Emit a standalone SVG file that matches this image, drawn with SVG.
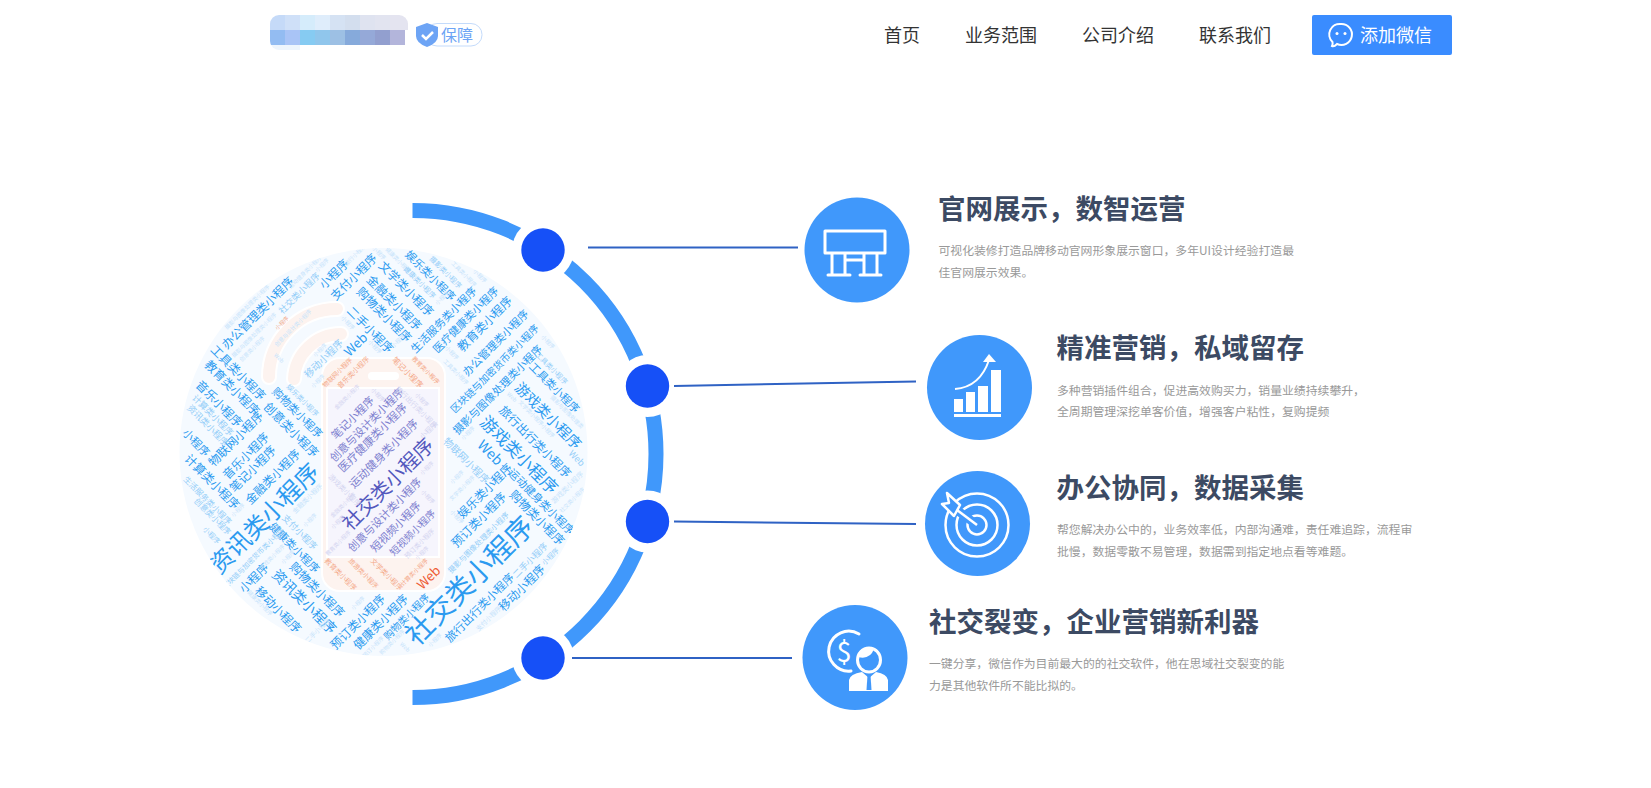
<svg xmlns="http://www.w3.org/2000/svg" width="1651" height="788" viewBox="0 0 1651 788">
<style>
text{font-family:"Noto Sans CJK SC","Noto Sans",sans-serif}
.c text{text-anchor:middle;dominant-baseline:central}
.w{fill:#2b9af0;font-size:12px}
.l{fill:#c6e3fb;font-size:5.500px}
.m{fill:#93cdf8;font-size:9px}
.p{fill:#7d80cf;font-size:11px}
.q{fill:#d3d4f0;font-size:5.500px}
.o{fill:#f4a888;font-size:6.500px}
.nav{fill:#333;font-size:18px}
.t{fill:#3c4a63;font-size:27.500px;font-weight:700}
.d{fill:#999;font-size:11.850px}
.ic{fill:none;stroke:#fff;stroke-width:3;stroke-linecap:round;stroke-linejoin:round}
.node{fill:#4098fb}
.dot{fill:#1650f7}
.halo{fill:#fff}
.cn{stroke:#2f62c4;stroke-width:2;fill:none}
</style>
<defs>
<clipPath id="cloud-clip"><circle cx="383.500" cy="452" r="204"/></clipPath>
<clipPath id="logo-clip"><rect x="270" y="15" width="138" height="35" rx="9"/></clipPath>
</defs>
<g id="logo">
<g id="mosaic" clip-path="url(#logo-clip)">
<rect x="270" y="44" width="30" height="6" fill="#eef5fd"/>
<rect x="270" y="15" width="15" height="15" fill="#c5daf8"/><rect x="285" y="15" width="15" height="15" fill="#cfe0f8"/><rect x="300" y="15" width="15" height="15" fill="#d5ecfb"/><rect x="315" y="15" width="15" height="15" fill="#dfedfb"/><rect x="330" y="15" width="15" height="15" fill="#d5e2f3"/><rect x="345" y="15" width="15" height="15" fill="#d3deee"/><rect x="360" y="15" width="15" height="15" fill="#dfe3f0"/><rect x="375" y="15" width="15" height="15" fill="#e2e4f0"/><rect x="390" y="15" width="18" height="15" fill="#e4e4f0"/>
<rect x="270" y="30" width="15" height="15" fill="#93bcf2"/><rect x="285" y="30" width="15" height="15" fill="#a9c4f6"/><rect x="300" y="30" width="15" height="15" fill="#86cbf2"/><rect x="315" y="30" width="15" height="15" fill="#90c6ec"/><rect x="330" y="30" width="15" height="15" fill="#9dc0e4"/><rect x="345" y="30" width="15" height="15" fill="#86aadb"/><rect x="360" y="30" width="15" height="15" fill="#95a9d8"/><rect x="375" y="30" width="15" height="15" fill="#929fcf"/><rect x="390" y="30" width="15" height="15" fill="#b3b5db"/>
</g>
<rect x="426" y="23.500" width="56" height="22.500" rx="11" fill="#fff" stroke="#c4dbfb"/>
<path d="M427 23 L438 27 V36 Q438 43 427 47 Q416 43 416 36 V27 Z" fill="#6da4f5"/>
<path d="M422 35 L426 39 L433 32" fill="none" stroke="#fff" stroke-width="2.500"/>
<text x="441" y="41" font-size="16" fill="#6da4f5">保障</text>
</g>
<g id="nav">
<text class="nav" x="884" y="41.500">首页</text>
<text class="nav" x="965" y="41.500">业务范围</text>
<text class="nav" x="1082" y="41.500">公司介绍</text>
<text class="nav" x="1199" y="41.500">联系我们</text>
</g>
<g id="wechat-button">
<rect x="1312" y="15" width="140" height="40" rx="2" fill="#3a8cff"/>
<path d="M1341 24 a10.500 10.500 0 1 1 -4 20 q-3 3 -5 2 q1 -2 0.500 -4 a10.500 10.500 0 0 1 8.500 -18 Z" fill="none" stroke="#fff" stroke-width="2"/>
<circle cx="1337" cy="33.500" r="1.500" fill="#fff"/><circle cx="1345" cy="33.500" r="1.500" fill="#fff"/>
<text x="1360" y="42" font-size="18" fill="#fff">添加微信</text>
</g>
<circle id="cloud-disc" cx="383.500" cy="452" r="204" fill="#f5faff"/>
<g id="wordcloud" class="c" clip-path="url(#cloud-clip)">
<path d="M337 309 A68 68 0 0 0 269 377 M341 334 A47 47 0 0 0 294 379" fill="none" stroke="#fff" stroke-width="16" stroke-linecap="round"/>
<path d="M337 309 A68 68 0 0 0 269 377 M341 334 A47 47 0 0 0 294 379" fill="none" stroke="#fdf3ef" stroke-width="12" stroke-linecap="round"/>
<rect x="322" y="358" width="123" height="233" rx="18" fill="#fdf3ef" stroke="#fff" stroke-width="2"/>
<rect x="327" y="388" width="112" height="169" fill="#f6f5fd" stroke="#fff" stroke-width="2"/>
<rect x="368" y="372" width="31" height="8" rx="4" fill="#fff"/>
<text class="w" transform="translate(333 273) rotate(-45)">小程序</text>
<text class="w" transform="translate(353 276) rotate(-45)">支付小程序</text>
<text class="w" transform="translate(407 288) rotate(45)">文学类小程序</text>
<text class="w" transform="translate(395 302) rotate(45)">金融类小程序</text>
<text class="w" transform="translate(385 314) rotate(45)">购物类小程序</text>
<text class="w" transform="translate(371 329) rotate(45)">二手小程序</text>
<text class="w" style="font-size:13px" transform="translate(355 344) rotate(-45)">Web</text>
<text class="w" style="font-size:11px" transform="translate(431 275) rotate(45)">娱乐类小程序</text>
<text class="w" style="font-size:11px" transform="translate(443 319) rotate(-45)">生活服务类小程序</text>
<text class="w" style="font-size:11px" transform="translate(465 319) rotate(-45)">医疗健康类小程序</text>
<text class="w" transform="translate(484 323) rotate(-45)">教育类小程序</text>
<text class="w" style="font-size:11px" transform="translate(495 342) rotate(-45)">办公管理类小程序</text>
<text class="w" style="font-size:10px" transform="translate(494 368) rotate(-45)">区块链与加密货币类小程序</text>
<text class="w" style="font-size:11px" transform="translate(497 389) rotate(-45)">摄影与图像处理类小程序</text>
<text class="w" style="font-size:11px" transform="translate(555 387) rotate(45)">工具类小程序</text>
<text class="w" style="font-size:14.500px" transform="translate(549 415) rotate(45)">游戏类小程序</text>
<text class="w" transform="translate(536 441) rotate(45)">旅行出行类小程序</text>
<text class="w" style="font-size:17px" transform="translate(520 454) rotate(45)">游戏类小程序</text>
<text class="w" style="font-size:14px" transform="translate(491 452) rotate(45)">Web</text>
<text class="m" transform="translate(577 458) rotate(45)">Web</text>
<text class="m" style="font-size:10px" transform="translate(467 460) rotate(45)">物联网小程序</text>
<text class="w" transform="translate(484 490) rotate(-45)">娱乐类小程序</text>
<text class="w" transform="translate(478 519) rotate(-45)">预订类小程序</text>
<text class="w" style="font-size:11px" transform="translate(542 501) rotate(45)">运动健身类小程序</text>
<text class="w" transform="translate(538 517) rotate(45)">购物类小程序</text>
<text class="m" style="font-size:7.500px" transform="translate(478 542) rotate(-45)">摄影与图像处理类小程序</text>
<text class="w" style="font-size:28px" transform="translate(468 579) rotate(-45)">社交类小程序</text>
<text class="w" style="font-size:11.500px" transform="translate(479 607) rotate(-45)">旅行出行类小程序</text>
<text class="w" transform="translate(521 587) rotate(-45)">移动小程序</text>
<text class="m" transform="translate(530 560) rotate(-45)">二手小程序</text>
<text class="m" style="font-size:7px" transform="translate(550 556) rotate(-45)">小程序</text>
<text class="w" style="font-size:10px" transform="translate(406 616) rotate(-45)">购物类小程序</text>
<text class="w" transform="translate(380 621) rotate(-45)">健康类小程序</text>
<text class="w" transform="translate(357 621) rotate(-45)">预订类小程序</text>
<text class="w" style="font-size:14px" transform="translate(305 601) rotate(45)">资讯类小程序</text>
<text class="w" transform="translate(318 589) rotate(45)">购物类小程序</text>
<text class="w" transform="translate(279 609) rotate(45)">移动小程序</text>
<text class="w" transform="translate(253 577) rotate(-45)">小程序</text>
<text class="w" style="font-size:24px" transform="translate(263 517) rotate(-45)">资讯类小程序</text>
<text class="w" style="font-size:11px" transform="translate(295 547) rotate(45)">健康类小程序</text>
<text class="m" transform="translate(300 532) rotate(45)">支付小程序</text>
<text class="w" transform="translate(272 476) rotate(-45)">金融类小程序</text>
<text class="w" transform="translate(252 468) rotate(-45)">笔记小程序</text>
<text class="w" transform="translate(245 455) rotate(-45)">音乐小程序</text>
<text class="w" transform="translate(235 438) rotate(-45)">物联网小程序</text>
<text class="w" transform="translate(213 481) rotate(45)">计算类小程序</text>
<text class="m" style="font-size:8px" transform="translate(208 500) rotate(45)">生活服务类小程序</text>
<text class="m" style="font-size:8px" transform="translate(213 516) rotate(45)">创意类小程序</text>
<text class="m" style="font-size:7px" transform="translate(212 535) rotate(45)">小程序</text>
<text class="m" style="font-size:7px" transform="translate(253 558) rotate(-45)">区块链与加密货币类小程序</text>
<text class="w" transform="translate(257 312) rotate(-45)">办公管理类小程序</text>
<text class="w" transform="translate(239 372) rotate(45)">工具类小程序</text>
<text class="w" transform="translate(233 387) rotate(45)">教育类小程序</text>
<text class="w" transform="translate(220 403) rotate(45)">音乐小程序</text>
<text class="m" style="font-size:9px" transform="translate(213 415) rotate(45)">计算类小程序</text>
<text class="m" style="font-size:9px" transform="translate(208 425) rotate(45)">资讯类小程序</text>
<text class="w" style="font-size:11px" transform="translate(197 442) rotate(45)">小程序</text>
<text class="w" style="font-size:11px" transform="translate(298 412) rotate(45)">购物类小程序</text>
<text class="m" style="font-size:7px" transform="translate(303 400) rotate(45)">娱乐类小程序</text>
<text class="w" transform="translate(292 429) rotate(45)">创意类小程序</text>
<text class="m" style="font-size:10px" transform="translate(323 358) rotate(-45)">移动小程序</text>
<text class="m" transform="translate(299 293) rotate(-45)">社交类小程序</text>
<text class="l" transform="translate(247 307) rotate(-45)">摄影与图像处理类小程序</text>
<text class="l" transform="translate(305 272) rotate(-45)">运动健身类小程序</text>
<text class="l" transform="translate(322 265) rotate(-45)">小程序</text>
<text class="l" transform="translate(355 255) rotate(-45)">旅行小程序</text>
<text class="l" transform="translate(379 253) rotate(45)">小程序</text>
<text class="l" transform="translate(398 260) rotate(45)">健康类小程序</text>
<text class="m" style="font-size:7px" transform="translate(446 272) rotate(45)">摄影类小程序</text>
<text class="m" style="font-size:7px" transform="translate(420 282) rotate(45)">健康类小程序</text>
<text class="l" transform="translate(464 274) rotate(45)">工具类小程序</text>
<text class="l" transform="translate(480 276) rotate(45)">小程序</text>
<text class="l" transform="translate(442 298) rotate(-45)">小程序</text>
<text class="l" transform="translate(348 323) rotate(45)">小程序</text>
<text class="l" transform="translate(375 347) rotate(45)">小程序</text>
<text class="l" transform="translate(398 341) rotate(-45)">小程序</text>
<text class="o" style="font-size:5.500px" transform="translate(282 323) rotate(-45)">小程序</text>
<text class="l" transform="translate(293 328) rotate(-45)">创意与设计类小程序</text>
<text class="l" transform="translate(254 335) rotate(-45)">摄影与图像处理类小程序</text>
<text class="l" transform="translate(252 349) rotate(-45)">创意类小程序</text>
<text class="l" transform="translate(279 358) rotate(45)">Web</text>
<text class="l" transform="translate(320 350) rotate(-45)">小程序</text>
<text class="l" transform="translate(318 381) rotate(-45)">小程序</text>
<text class="l" transform="translate(548 342) rotate(45)">小程序</text>
<text class="m" style="font-size:7px" transform="translate(552 368) rotate(45)">工具类小程序</text>
<text class="l" transform="translate(456 372) rotate(45)">工具类小程序</text>
<text class="l" transform="translate(452 353) rotate(45)">小程序</text>
<text class="l" transform="translate(567 412) rotate(45)">摄影与图像处理类</text>
<text class="l" transform="translate(531 413) rotate(45)">文学类小程序</text>
<text class="l" transform="translate(512 397) rotate(45)">Web</text>
<text class="l" transform="translate(548 431) rotate(45)">小程序</text>
<text class="l" transform="translate(468 433) rotate(-45)">小程序</text>
<text class="l" transform="translate(457 477) rotate(-45)">小程序</text>
<text class="l" transform="translate(462 488) rotate(-45)">文学类小程序</text>
<text class="l" transform="translate(457 517) rotate(45)">小程序</text>
<text class="l" style="font-size:7px" transform="translate(567 487) rotate(-45)">游戏类小程序</text>
<text class="l" transform="translate(572 500) rotate(-45)">社交类小程序</text>
<text class="l" style="font-size:6.500px" transform="translate(488 618) rotate(-45)">支付小程序</text>
<text class="l" transform="translate(435 640) rotate(-45)">小程序</text>
<text class="l" transform="translate(392 642) rotate(-45)">购物类小程序</text>
<text class="l" transform="translate(373 647) rotate(-45)">预订小程序</text>
<text class="l" transform="translate(405 647) rotate(45)">Web</text>
<text class="l" transform="translate(358 603) rotate(-45)">小程序</text>
<text class="l" style="font-size:6.500px" transform="translate(317 630) rotate(-45)">二手小程序</text>
<text class="l" transform="translate(260 603) rotate(45)">健康类小程序</text>
<text class="l" transform="translate(272 557) rotate(-45)">游戏类小程序</text>
<text class="l" transform="translate(288 557) rotate(-45)">小程序</text>
<text class="l" transform="translate(238 510) rotate(-45)">小程序</text>
<text class="l" style="font-size:6.500px" transform="translate(307 498) rotate(-45)">金融类小程序</text>
<text class="l" transform="translate(310 520) rotate(-45)">小程序</text>
<text class="o" transform="translate(337 372) rotate(-45)">物联网小程序</text>
<text class="o" style="font-size:7px" transform="translate(353 372) rotate(-45)">音乐类小程序</text>
<text class="o" style="font-size:8px" transform="translate(408 372) rotate(45)">笔记小程序</text>
<text class="o" style="font-size:6px" transform="translate(426 370) rotate(45)">教育类小程序</text>
<text class="p" transform="translate(352 417) rotate(-45)">笔记小程序</text>
<text class="p" transform="translate(366 424) rotate(-45)">创意与设计类小程序</text>
<text class="p" style="font-size:11.500px" transform="translate(372 437) rotate(-45)">医疗健康类小程序</text>
<text class="p" style="font-size:11.500px" transform="translate(383 453) rotate(-45)">运动健身类小程序</text>
<text class="p" style="font-size:20px;fill:#5358bd" transform="translate(387 483) rotate(-45)">社交类小程序</text>
<text class="p" transform="translate(384 514) rotate(-45)">创意与设计类小程序</text>
<text class="p" transform="translate(395 526) rotate(-45)">短视频小程序</text>
<text class="p" style="font-size:10px" transform="translate(412 532) rotate(-45)">短视频小程序</text>
<text class="q" style="font-size:6.500px" transform="translate(419 543) rotate(-45)">预订类小程序</text>
<text class="q" style="font-size:7px" transform="translate(417 407) rotate(45)">旅行出行类小程序</text>
<text class="q" style="font-size:7px" transform="translate(428 430) rotate(-45)">小程序</text>
<text class="q" transform="translate(347 397) rotate(-45)">金融类小程序</text>
<text class="q" transform="translate(378 395) rotate(45)">小程序</text>
<text class="q" transform="translate(422 400) rotate(45)">小程序</text>
<text class="q" style="font-size:7px" transform="translate(345 490) rotate(45)">游戏类小程序</text>
<text class="q" transform="translate(343 505) rotate(-45)">金融类小程序</text>
<text class="q" transform="translate(338 522) rotate(-45)">小程序</text>
<text class="q" transform="translate(338 543) rotate(-45)">教育类小程序</text>
<text class="q" transform="translate(427 468) rotate(-45)">小程序</text>
<text class="q" transform="translate(428 497) rotate(45)">小程序</text>
<text class="q" transform="translate(422 553) rotate(-45)">小程序</text>
<text class="o" style="font-size:7px" transform="translate(341 574) rotate(45)">教育类小程序</text>
<text class="o" transform="translate(364 573) rotate(45)">旅游类小程序</text>
<text class="o" style="font-size:7px" transform="translate(387 574) rotate(45)">文学类小程序</text>
<text class="o" style="font-size:6px" transform="translate(414 572) rotate(-45)">计算类小程序</text>
<text class="o" style="font-size:13px;fill:#ee5a33" transform="translate(428 577) rotate(-45)">Web</text>
</g>
<g id="ring">
<path d="M412.500 210.500 A243.500 243.500 0 0 1 412.500 697.500" fill="none" stroke="#4098fb" stroke-width="15"/>
</g>
<g id="dot-1"><circle class="halo" cx="543" cy="250" r="31"/><circle class="dot" cx="543" cy="250" r="21.700"/></g>
<g id="dot-2"><circle class="halo" cx="647.500" cy="386" r="31"/><circle class="dot" cx="647.500" cy="386" r="21.700"/></g>
<g id="dot-3"><circle class="halo" cx="647.500" cy="521.500" r="31"/><circle class="dot" cx="647.500" cy="521.500" r="21.700"/></g>
<g id="dot-4"><circle class="halo" cx="543" cy="658" r="31"/><circle class="dot" cx="543" cy="658" r="21.700"/></g>
<g id="connectors">
<path class="cn" d="M588 247.500 H798"/>
<path class="cn" d="M674 386 L916 381.500"/>
<path class="cn" d="M674 521.500 L916 524"/>
<path class="cn" d="M572 658 H792"/>
</g>
<g id="node-1">
<circle class="node" cx="857" cy="250" r="52.500"/>
<path class="ic" d="M825 231 H885 V253 H825 Z M832 253 V275 M845 253 V275 M864 253 V275 M877 253 V275 M845 260 H864 M828 275 H850 M860 275 H881"/>
<text class="t" x="938" y="219">官网展示，数智运营</text>
<text class="d" x="938.500" y="255">可视化装修打造品牌移动官网形象展示窗口，多年UI设计经验打造最</text>
<text class="d" x="938.500" y="277">佳官网展示效果。</text>
</g>
<g id="node-2">
<circle class="node" cx="979.500" cy="387.500" r="52.500"/>
<path fill="#fff" d="M954 399 H963 V412 H954 Z M966 392 H975 V412 H966 Z M978 386 H988 V412 H978 Z M991 370 H1001 V412 H991 Z M954 414 H1001 V417 H954 Z M989 354 L996 362 H983 Z"/>
<path d="M955 389 Q980 387 989 360" fill="none" stroke="#fff" stroke-width="2"/>
<text class="t" x="1056.500" y="358">精准营销，私域留存</text>
<text class="d" x="1057" y="395">多种营销插件组合，促进高效购买力，销量业绩持续攀升，</text>
<text class="d" x="1057" y="416">全周期管理深挖单客价值，增强客户粘性，复购提频</text>
</g>
<g id="node-3">
<circle class="node" cx="977.500" cy="523.500" r="52.500"/>
<circle cx="977" cy="525" r="31.500" fill="none" stroke="#fff" stroke-width="2.500"/>
<circle cx="977" cy="525" r="20.500" fill="none" stroke="#fff" stroke-width="2.500"/>
<circle cx="977" cy="525" r="9.500" fill="none" stroke="#fff" stroke-width="2.500"/>
<path d="M977 525 L950 505" stroke="#4098fb" stroke-width="9" fill="none"/>
<path d="M977 525 L957 510" stroke="#fff" stroke-width="2.500" fill="none"/>
<path d="M947 493 L960 505 L954 516 L942 504 L949 503 Z" fill="#4098fb" stroke="#fff" stroke-width="2.500" stroke-linejoin="round"/>
<text class="t" x="1056.500" y="498">办公协同，数据采集</text>
<text class="d" x="1057" y="534">帮您解决办公中的，业务效率低，内部沟通难，责任难追踪，流程审</text>
<text class="d" x="1057" y="556">批慢，数据零散不易管理，数据需到指定地点看等难题。</text>
</g>
<g id="node-4">
<circle class="node" cx="855" cy="657.500" r="52.500"/>
<path class="ic" d="M859 634 A20 20 0 1 0 851 671" stroke-width="3.500"/>
<text x="844" y="662" font-size="27" fill="#fff" text-anchor="middle" font-family="Liberation Sans">$</text>
<path d="M849 691 V680 Q850 674 862 672 L869 678 L876 672 Q887 674 888 680 V691 Z" fill="#fff"/>
<ellipse cx="869" cy="660" rx="11.500" ry="12" fill="#4098fb" stroke="#fff" stroke-width="3"/>
<path d="M858 657 Q870 660 874 649 L880 656 Q880 648 869 647 Q858 648 858 657 Z" fill="#fff"/>
<path d="M867.500 675 H870.500 L871.500 690 H866.500 Z" fill="#4098fb"/>
<text class="t" x="929" y="632">社交裂变，企业营销新利器</text>
<text class="d" x="929" y="668">一键分享，微信作为目前最大的的社交软件，他在思域社交裂变的能</text>
<text class="d" x="929" y="690">力是其他软件所不能比拟的。</text>
</g>
</svg>
